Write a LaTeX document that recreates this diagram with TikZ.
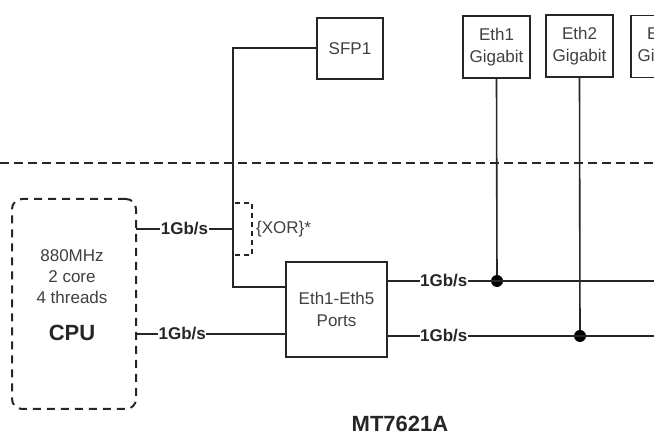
\documentclass[tikz,border=0pt]{standalone}
\usepackage{fontspec}
\setmainfont{Liberation Sans}
\begin{document}
\begin{tikzpicture}[x=1pt,y=-1pt,
  box/.style={draw=black!85,line width=1.8pt,rectangle,inner sep=0pt,align=center,
    font=\fontsize{17}{22}\selectfont,text=black!75},
  wire/.style={draw=black!85,line width=1.6pt},
  rate/.style={fill=white,inner sep=0.5pt,font=\fontsize{17}{20}\selectfont\bfseries,text=black!85},
  plain/.style={align=center,inner sep=0pt,font=\fontsize{17}{21}\selectfont,text=black!75},
  big/.style={inner sep=0pt,font=\fontsize{22}{24}\selectfont\bfseries,text=black!85},
  dot/.style={circle,fill=black,inner sep=0pt,minimum size=12pt}]
\path[use as bounding box] (0,0) rectangle (654,435);
\clip (0,0) rectangle (654,435);
\fill[white] (0,0) rectangle (654,435);

% boundary line
\coordinate (bl) at (0,163);
\coordinate (br) at (654,163);
\draw[black!85,line width=2pt,dash pattern=on 9pt off 5pt] (bl) -- (br);

% boxes
\node[box,minimum width=66pt,minimum height=61pt] (sfp) at (350,48.5) {SFP1};
\node[box,minimum width=67pt,minimum height=62pt] (eth1) at (496.5,47) {Eth1\\Gigabit};
\node[box,minimum width=67pt,minimum height=62pt] (eth2) at (579.5,46) {Eth2\\Gigabit};
\node[box,minimum width=67pt,minimum height=62pt] (eth3) at (664.5,46.5) {Eth3\\Gigabit};
\node[box,minimum width=101pt,minimum height=95pt] (ports) at (336.5,309.5) {Eth1-Eth5\\Ports};

% CPU
\node[draw=black!85,line width=2pt,dash pattern=on 8pt off 6pt,rounded corners=10pt,
  minimum width=124pt,minimum height=210pt,inner sep=0pt] (cpu) at (74,304) {};
\node[plain] (cputxt) at (72,277) {880MHz\\2 core\\4 threads};
\node[big] (cpulbl) at (72,333) {CPU};

% junctions
\coordinate (j1) at (233,48);
\coordinate (j2) at (233,287);
\coordinate (jc) at (233,229);
\coordinate (c1) at (136,229);
\coordinate (c2) at (136,334);
\coordinate (r1) at (654,281);
\coordinate (r2) at (654,336);
\node[dot] (d1) at (497,281) {};
\node[dot] (d2) at (580,336) {};

\draw[wire] (sfp.west |- j1) -- (j1) -- (j2) -- (j2 -| ports.west);
\draw[wire] (c1) -- node[rate,pos=0.5] (l1) {1Gb/s} (jc);
\draw[wire] (c2) -- node[rate,pos=0.31] (l2) {1Gb/s} (c2 -| ports.west);
\draw[wire] (ports.east |- r1) -- node[rate,pos=0.21] (l3) {1Gb/s} (r1);
\draw[wire] (ports.east |- r2) -- node[rate,pos=0.21] (l4) {1Gb/s} (r2);
\draw[wire] (eth1.south) -- (d1);
\draw[wire] (eth2.south) -- (d2);

% XOR bracket
\coordinate (x1) at (235,203);
\coordinate (x2) at (252,203);
\coordinate (x3) at (252,255);
\coordinate (x4) at (235,255);
\draw[black!85,line width=1.5pt,dash pattern=on 5pt off 4pt] (x1) -- (x2) -- (x3) -- (x4);
\node[plain,anchor=west] (xor) at (256,229) {\{XOR\}*};

\node[big] (chip) at (400,424) {MT7621A};
\end{tikzpicture}
\end{document}
